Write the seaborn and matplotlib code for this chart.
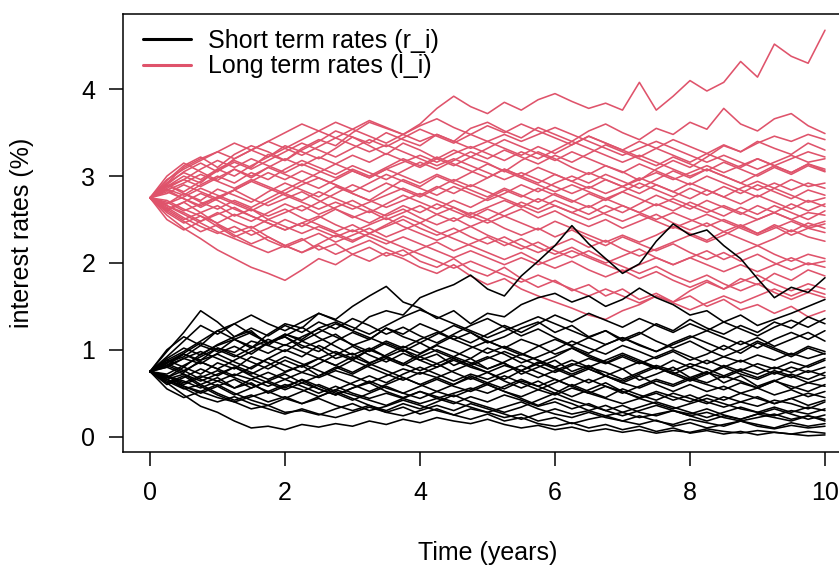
import numpy as np
import pandas as pd
import matplotlib
matplotlib.use("Agg")
import matplotlib.pyplot as plt
from matplotlib.lines import Line2D
import seaborn as sns

# time grid of the simulated paths (years)
times = np.linspace(0, 10, 41)

# short term rates (%), one list per simulated path
short_1 = [0.75, 0.82, 0.95, 0.88, 1.02, 0.97, 1.10, 1.05, 1.18, 1.12, 1.25, 1.32, 1.22, 1.38, 1.45, 1.40, 1.60, 1.68, 1.75, 1.86, 1.70,
           1.62, 1.85, 2.02, 2.20, 2.43, 2.22, 2.05, 1.88, 1.99, 2.25, 2.45, 2.32, 2.38, 2.20, 2.05, 1.82, 1.60, 1.72, 1.66, 1.83]
short_2 = [0.75, 0.88, 0.80, 0.95, 1.05, 1.12, 1.02, 1.18, 1.30, 1.25, 1.42, 1.35, 1.50, 1.62, 1.73, 1.55, 1.48, 1.36, 1.45, 1.30, 1.42,
           1.38, 1.52, 1.60, 1.65, 1.55, 1.62, 1.50, 1.58, 1.71, 1.60, 1.52, 1.40, 1.45, 1.32, 1.40, 1.28, 1.35, 1.42, 1.50, 1.58]
short_3 = [0.75, 0.62, 0.48, 0.35, 0.28, 0.18, 0.10, 0.12, 0.08, 0.14, 0.11, 0.15, 0.12, 0.18, 0.14, 0.20, 0.16, 0.22, 0.18, 0.15, 0.20,
           0.14, 0.10, 0.13, 0.08, 0.11, 0.06, 0.09, 0.05, 0.08, 0.04, 0.07, 0.05, 0.09, 0.06, 0.04, 0.07, 0.05, 0.03, 0.06, 0.04]
short_4 = [0.75, 0.70, 0.58, 0.52, 0.45, 0.40, 0.32, 0.36, 0.28, 0.30, 0.25, 0.32, 0.38, 0.30, 0.35, 0.42, 0.36, 0.30, 0.25, 0.32, 0.28,
           0.22, 0.26, 0.18, 0.22, 0.15, 0.20, 0.24, 0.18, 0.14, 0.19, 0.12, 0.16, 0.10, 0.14, 0.18, 0.12, 0.09, 0.13, 0.10, 0.12]
short_5 = [0.75, 0.98, 1.20, 1.45, 1.32, 1.15, 1.22, 1.05, 0.98, 1.10, 1.02, 0.90, 0.96, 0.85, 0.92, 1.00, 0.88, 0.95, 0.82, 0.90, 0.78,
           0.85, 0.72, 0.80, 0.88, 0.75, 0.82, 0.70, 0.78, 0.65, 0.72, 0.80, 0.68, 0.75, 0.62, 0.70, 0.58, 0.65, 0.55, 0.62, 0.58]
short_6 = [0.75, 0.85, 0.92, 1.05, 0.98, 1.12, 1.20, 1.08, 1.15, 1.02, 1.10, 1.18, 1.05, 1.12, 1.25, 1.18, 1.30, 1.22, 1.12, 1.20, 1.08,
           1.15, 1.25, 1.32, 1.20, 1.28, 1.15, 1.22, 1.10, 1.18, 1.30, 1.22, 1.35, 1.25, 1.18, 1.28, 1.20, 1.32, 1.25, 1.38, 1.30]
short_7 = [0.75, 0.68, 0.80, 0.72, 0.85, 0.78, 0.92, 0.85, 0.75, 0.82, 0.70, 0.78, 0.88, 0.80, 0.72, 0.65, 0.74, 0.68, 0.60, 0.70, 0.62,
           0.55, 0.64, 0.58, 0.50, 0.60, 0.52, 0.45, 0.55, 0.48, 0.42, 0.50, 0.44, 0.38, 0.46, 0.40, 0.35, 0.42, 0.38, 0.32, 0.40]
short_8 = [0.75, 0.82, 0.74, 0.88, 0.95, 0.86, 0.78, 0.90, 1.00, 0.92, 1.05, 0.96, 0.88, 1.00, 0.92, 0.84, 0.95, 1.05, 0.98, 0.90, 1.02,
           0.95, 0.85, 0.92, 1.00, 1.10, 1.02, 0.95, 1.05, 0.98, 0.90, 0.98, 0.88, 0.95, 1.05, 0.96, 1.08, 1.00, 0.92, 1.02, 0.95]
short_9 = [0.75, 0.66, 0.72, 0.60, 0.68, 0.56, 0.62, 0.50, 0.58, 0.65, 0.55, 0.48, 0.56, 0.62, 0.52, 0.45, 0.52, 0.44, 0.38, 0.46, 0.40,
           0.48, 0.42, 0.35, 0.40, 0.32, 0.38, 0.30, 0.36, 0.28, 0.24, 0.30, 0.26, 0.32, 0.25, 0.20, 0.26, 0.22, 0.18, 0.24, 0.20]
short_10 = [0.75, 0.80, 0.90, 0.84, 0.96, 1.04, 0.95, 1.08, 1.15, 1.05, 0.98, 1.10, 1.20, 1.12, 1.25, 1.15, 1.08, 1.18, 1.28, 1.20, 1.10,
            1.02, 1.12, 1.05, 0.95, 1.02, 0.92, 0.85, 0.94, 0.86, 0.78, 0.88, 0.80, 0.72, 0.82, 0.75, 0.68, 0.76, 0.70, 0.62, 0.68]
short_11 = [0.75, 0.70, 0.62, 0.70, 0.64, 0.72, 0.66, 0.58, 0.66, 0.74, 0.68, 0.76, 0.70, 0.62, 0.70, 0.78, 0.72, 0.80, 0.88, 0.80, 0.74,
            0.82, 0.76, 0.68, 0.76, 0.84, 0.78, 0.70, 0.64, 0.72, 0.80, 0.74, 0.66, 0.74, 0.68, 0.76, 0.84, 0.78, 0.86, 0.80, 0.88]
short_12 = [0.75, 0.64, 0.55, 0.60, 0.50, 0.42, 0.48, 0.40, 0.46, 0.38, 0.44, 0.36, 0.30, 0.36, 0.28, 0.34, 0.26, 0.32, 0.25, 0.20, 0.26,
            0.18, 0.22, 0.15, 0.12, 0.16, 0.10, 0.14, 0.08, 0.12, 0.06, 0.10, 0.04, 0.07, 0.03, 0.06, 0.02, 0.05, 0.03, 0.01, 0.02]
short_13 = [0.75, 0.86, 0.96, 1.08, 1.00, 0.92, 1.02, 1.12, 1.05, 1.15, 1.24, 1.15, 1.06, 0.98, 1.08, 1.00, 0.92, 0.84, 0.92, 0.85, 0.78,
            0.86, 0.95, 0.88, 0.80, 0.72, 0.80, 0.74, 0.66, 0.74, 0.82, 0.76, 0.84, 0.78, 0.70, 0.78, 0.72, 0.80, 0.74, 0.82, 0.90]
short_14 = [0.75, 0.68, 0.76, 0.66, 0.58, 0.66, 0.56, 0.64, 0.72, 0.62, 0.70, 0.80, 0.72, 0.82, 0.90, 0.82, 0.92, 1.00, 0.92, 1.02, 1.10,
            1.02, 0.94, 1.04, 1.12, 1.04, 0.96, 1.06, 1.14, 1.05, 0.98, 1.08, 1.16, 1.08, 1.00, 1.10, 1.02, 1.12, 1.20, 1.12, 1.22]
short_15 = [0.75, 0.80, 0.72, 0.64, 0.72, 0.80, 0.70, 0.62, 0.54, 0.62, 0.55, 0.48, 0.56, 0.64, 0.56, 0.50, 0.58, 0.66, 0.58, 0.52, 0.60,
            0.52, 0.46, 0.54, 0.48, 0.56, 0.50, 0.58, 0.52, 0.45, 0.52, 0.46, 0.40, 0.48, 0.42, 0.50, 0.44, 0.38, 0.44, 0.50, 0.45]
short_16 = [0.75, 0.90, 1.02, 0.94, 1.06, 1.15, 1.25, 1.16, 1.28, 1.20, 1.32, 1.24, 1.36, 1.28, 1.18, 1.26, 1.16, 1.08, 1.18, 1.28, 1.36,
            1.26, 1.16, 1.24, 1.14, 1.05, 1.14, 1.22, 1.12, 1.20, 1.10, 1.02, 1.10, 1.00, 0.92, 1.00, 1.10, 1.02, 0.94, 1.04, 0.98]
short_17 = [0.75, 0.66, 0.58, 0.50, 0.58, 0.48, 0.56, 0.64, 0.56, 0.66, 0.58, 0.50, 0.42, 0.50, 0.58, 0.50, 0.44, 0.52, 0.60, 0.68, 0.60,
            0.52, 0.44, 0.36, 0.44, 0.38, 0.30, 0.36, 0.28, 0.34, 0.40, 0.34, 0.28, 0.22, 0.28, 0.34, 0.28, 0.24, 0.30, 0.26, 0.32]
short_18 = [0.75, 0.84, 0.76, 0.86, 0.78, 0.70, 0.80, 0.90, 0.82, 0.74, 0.84, 0.94, 1.04, 0.94, 0.86, 0.96, 0.88, 0.80, 0.90, 0.82, 0.74,
            0.66, 0.76, 0.86, 0.78, 0.70, 0.62, 0.70, 0.62, 0.56, 0.64, 0.58, 0.66, 0.60, 0.54, 0.62, 0.56, 0.64, 0.58, 0.52, 0.60]
short_19 = [0.75, 0.72, 0.82, 0.92, 1.02, 0.94, 0.86, 0.78, 0.88, 0.80, 0.90, 0.82, 0.74, 0.84, 0.76, 0.68, 0.60, 0.68, 0.76, 0.84, 0.92,
            0.84, 0.76, 0.84, 0.92, 1.02, 0.94, 0.86, 0.78, 0.86, 0.80, 0.72, 0.64, 0.72, 0.80, 0.72, 0.66, 0.74, 0.68, 0.76, 0.70]
short_20 = [0.75, 0.62, 0.70, 0.58, 0.48, 0.40, 0.46, 0.52, 0.44, 0.38, 0.46, 0.54, 0.48, 0.42, 0.36, 0.44, 0.52, 0.46, 0.40, 0.34, 0.28,
            0.34, 0.40, 0.32, 0.26, 0.22, 0.28, 0.22, 0.18, 0.24, 0.18, 0.14, 0.20, 0.16, 0.12, 0.18, 0.14, 0.10, 0.16, 0.12, 0.15]
short_21 = [0.75, 0.88, 0.98, 1.10, 1.22, 1.12, 1.04, 0.96, 1.06, 0.98, 0.90, 0.82, 0.92, 0.84, 0.94, 1.04, 0.96, 1.06, 1.16, 1.08, 1.18,
            1.28, 1.20, 1.30, 1.40, 1.32, 1.42, 1.34, 1.26, 1.36, 1.28, 1.20, 1.30, 1.22, 1.32, 1.24, 1.16, 1.26, 1.34, 1.26, 1.36]
short_22 = [0.75, 0.70, 0.60, 0.68, 0.76, 0.68, 0.60, 0.52, 0.60, 0.54, 0.46, 0.54, 0.62, 0.70, 0.62, 0.72, 0.80, 0.72, 0.64, 0.72, 0.66,
            0.74, 0.82, 0.74, 0.66, 0.58, 0.66, 0.58, 0.50, 0.58, 0.66, 0.60, 0.68, 0.62, 0.70, 0.64, 0.56, 0.64, 0.72, 0.66, 0.74]
short_23 = [0.75, 1.00, 1.15, 1.05, 1.22, 1.30, 1.18, 1.08, 1.16, 1.26, 1.14, 1.04, 0.94, 1.02, 0.92, 0.84, 0.76, 0.84, 0.74, 0.66, 0.74,
            0.64, 0.56, 0.64, 0.54, 0.46, 0.54, 0.62, 0.52, 0.44, 0.50, 0.42, 0.48, 0.40, 0.34, 0.40, 0.46, 0.38, 0.44, 0.36, 0.42]
short_24 = [0.75, 0.55, 0.45, 0.52, 0.60, 0.50, 0.42, 0.36, 0.44, 0.52, 0.60, 0.52, 0.44, 0.36, 0.30, 0.38, 0.32, 0.40, 0.48, 0.40, 0.34,
            0.28, 0.34, 0.42, 0.50, 0.42, 0.36, 0.30, 0.24, 0.30, 0.36, 0.30, 0.24, 0.18, 0.24, 0.20, 0.26, 0.32, 0.26, 0.20, 0.25]
short_25 = [0.75, 0.92, 1.10, 1.28, 1.18, 1.30, 1.40, 1.30, 1.22, 1.32, 1.42, 1.34, 1.26, 1.18, 1.28, 1.38, 1.46, 1.38, 1.30, 1.22, 1.14,
            1.22, 1.30, 1.38, 1.30, 1.22, 1.14, 1.06, 1.14, 1.06, 0.98, 1.06, 1.14, 1.22, 1.14, 1.06, 1.14, 1.04, 1.12, 1.20, 1.10]
short_26 = [0.75, 0.60, 0.68, 0.78, 0.70, 0.80, 0.72, 0.82, 0.92, 0.84, 0.76, 0.68, 0.60, 0.52, 0.60, 0.68, 0.60, 0.52, 0.46, 0.54, 0.62,
            0.70, 0.62, 0.54, 0.62, 0.70, 0.78, 0.70, 0.62, 0.70, 0.60, 0.52, 0.60, 0.52, 0.58, 0.50, 0.56, 0.48, 0.54, 0.46, 0.52]
short_27 = [0.75, 0.85, 0.95, 0.86, 0.78, 0.88, 0.98, 1.08, 1.18, 1.10, 1.20, 1.30, 1.22, 1.14, 1.06, 0.98, 1.08, 0.98, 0.90, 0.82, 0.90,
            0.98, 0.90, 0.82, 0.74, 0.82, 0.90, 0.84, 0.92, 0.84, 0.92, 1.00, 0.92, 0.84, 0.92, 0.86, 0.94, 0.88, 0.96, 0.90, 0.96]
short_28 = [0.75, 0.66, 0.56, 0.46, 0.40, 0.46, 0.38, 0.32, 0.26, 0.32, 0.26, 0.22, 0.28, 0.34, 0.28, 0.24, 0.30, 0.36, 0.30, 0.38, 0.32,
            0.26, 0.20, 0.26, 0.32, 0.26, 0.30, 0.24, 0.28, 0.22, 0.26, 0.30, 0.24, 0.28, 0.22, 0.18, 0.22, 0.26, 0.20, 0.24, 0.18]
short_29 = [0.75, 0.82, 0.90, 0.98, 0.90, 0.82, 0.74, 0.66, 0.74, 0.82, 0.90, 0.98, 0.90, 1.00, 1.10, 1.02, 1.12, 1.20, 1.12, 1.04, 0.96,
            1.04, 0.96, 0.88, 0.80, 0.88, 0.80, 0.88, 0.96, 0.88, 0.80, 0.72, 0.80, 0.88, 0.80, 0.88, 0.80, 0.72, 0.80, 0.74, 0.80]
short_30 = [0.75, 0.70, 0.64, 0.56, 0.64, 0.56, 0.66, 0.74, 0.66, 0.58, 0.50, 0.58, 0.50, 0.44, 0.50, 0.44, 0.38, 0.44, 0.50, 0.56, 0.50,
            0.58, 0.66, 0.58, 0.66, 0.58, 0.50, 0.44, 0.38, 0.44, 0.38, 0.32, 0.38, 0.44, 0.38, 0.32, 0.28, 0.34, 0.28, 0.34, 0.30]

# long term rates (%), one list per simulated path
long_1 = [2.75, 2.88, 3.00, 2.92, 3.08, 3.18, 3.10, 3.25, 3.18, 3.32, 3.42, 3.35, 3.50, 3.62, 3.55, 3.48, 3.60, 3.78, 3.92, 3.80, 3.72,
          3.85, 3.76, 3.88, 3.95, 3.86, 3.78, 3.84, 3.76, 4.08, 3.76, 3.92, 4.10, 3.98, 4.08, 4.32, 4.14, 4.52, 4.38, 4.30, 4.68]
long_2 = [2.75, 2.90, 3.05, 3.15, 3.05, 3.20, 3.30, 3.22, 3.35, 3.28, 3.20, 3.32, 3.45, 3.38, 3.50, 3.42, 3.35, 3.48, 3.40, 3.55, 3.62,
          3.52, 3.44, 3.56, 3.48, 3.40, 3.52, 3.60, 3.50, 3.42, 3.55, 3.48, 3.62, 3.54, 3.78, 3.60, 3.52, 3.66, 3.72, 3.58, 3.49]
long_3 = [2.75, 2.55, 2.40, 2.28, 2.15, 2.05, 1.95, 1.88, 1.80, 1.92, 2.05, 1.98, 2.10, 2.18, 2.08, 2.15, 2.02, 1.95, 2.05, 1.92, 1.85,
          1.95, 1.82, 1.72, 1.80, 1.68, 1.75, 1.62, 1.70, 1.58, 1.65, 1.55, 1.62, 1.50, 1.58, 1.46, 1.52, 1.42, 1.50, 1.38, 1.45]
long_4 = [2.75, 2.62, 2.50, 2.58, 2.45, 2.35, 2.42, 2.30, 2.20, 2.28, 2.15, 2.22, 2.10, 2.02, 2.12, 2.05, 1.95, 1.88, 1.98, 1.85, 1.75,
          1.82, 1.70, 1.62, 1.55, 1.48, 1.40, 1.35, 1.45, 1.52, 1.62, 1.55, 1.68, 1.78, 1.70, 1.82, 1.75, 1.88, 1.80, 1.92, 1.85]
long_5 = [2.75, 2.95, 3.12, 3.22, 3.10, 3.25, 3.35, 3.28, 3.18, 3.30, 3.40, 3.52, 3.45, 3.35, 3.25, 3.38, 3.30, 3.20, 3.12, 3.22, 3.15,
          3.05, 3.18, 3.28, 3.20, 3.10, 3.02, 3.12, 3.05, 2.95, 3.08, 3.18, 3.10, 3.22, 3.35, 3.28, 3.40, 3.32, 3.25, 3.38, 3.30]
long_6 = [2.75, 2.68, 2.80, 2.72, 2.85, 2.78, 2.70, 2.82, 2.92, 2.84, 2.76, 2.88, 2.80, 2.72, 2.84, 2.96, 2.88, 3.00, 2.92, 2.84, 2.76,
          2.86, 2.78, 2.70, 2.80, 2.72, 2.64, 2.74, 2.66, 2.58, 2.68, 2.60, 2.70, 2.62, 2.54, 2.64, 2.56, 2.66, 2.58, 2.50, 2.60]
long_7 = [2.75, 2.62, 2.70, 2.58, 2.66, 2.54, 2.62, 2.50, 2.58, 2.66, 2.56, 2.64, 2.72, 2.62, 2.54, 2.62, 2.52, 2.44, 2.52, 2.42, 2.50,
          2.40, 2.32, 2.40, 2.30, 2.38, 2.28, 2.20, 2.30, 2.22, 2.14, 2.22, 2.12, 2.04, 2.12, 2.02, 2.10, 2.00, 1.92, 2.00, 1.95]
long_8 = [2.75, 2.85, 2.78, 2.90, 3.00, 2.92, 3.04, 2.96, 3.08, 3.18, 3.10, 3.02, 3.12, 3.04, 2.96, 3.06, 3.16, 3.08, 3.18, 3.28, 3.20,
          3.30, 3.22, 3.14, 3.24, 3.16, 3.26, 3.36, 3.28, 3.20, 3.12, 3.22, 3.14, 3.06, 3.16, 3.08, 3.00, 3.10, 3.02, 3.12, 3.05]
long_9 = [2.75, 2.60, 2.48, 2.36, 2.44, 2.32, 2.22, 2.30, 2.20, 2.12, 2.20, 2.10, 2.18, 2.26, 2.16, 2.08, 2.16, 2.24, 2.14, 2.22, 2.30,
          2.20, 2.28, 2.18, 2.10, 2.18, 2.08, 2.00, 2.08, 2.16, 2.06, 1.98, 2.06, 2.14, 2.04, 2.12, 2.20, 2.10, 2.02, 2.10, 2.05]
long_10 = [2.75, 2.82, 2.74, 2.66, 2.76, 2.68, 2.60, 2.70, 2.80, 2.72, 2.82, 2.74, 2.66, 2.58, 2.68, 2.78, 2.70, 2.62, 2.72, 2.64, 2.74,
           2.84, 2.76, 2.86, 2.78, 2.70, 2.80, 2.72, 2.82, 2.92, 2.84, 2.76, 2.86, 2.78, 2.88, 2.80, 2.90, 2.82, 2.74, 2.84, 2.78]
long_11 = [2.75, 2.66, 2.58, 2.48, 2.56, 2.64, 2.54, 2.46, 2.38, 2.46, 2.54, 2.44, 2.36, 2.44, 2.52, 2.42, 2.34, 2.26, 2.34, 2.42, 2.32,
           2.24, 2.16, 2.24, 2.14, 2.06, 2.14, 2.04, 1.96, 1.88, 1.96, 1.86, 1.78, 1.86, 1.76, 1.68, 1.76, 1.66, 1.58, 1.66, 1.60]
long_12 = [2.75, 2.88, 2.96, 2.88, 2.98, 3.08, 3.00, 3.10, 3.02, 2.94, 3.04, 3.14, 3.24, 3.16, 3.26, 3.18, 3.10, 3.20, 3.30, 3.22, 3.32,
           3.42, 3.34, 3.26, 3.18, 3.28, 3.20, 3.12, 3.04, 3.14, 3.06, 2.98, 2.90, 3.00, 2.92, 2.84, 2.76, 2.86, 2.78, 2.70, 2.75]
long_13 = [2.75, 2.70, 2.60, 2.68, 2.76, 2.84, 2.74, 2.66, 2.74, 2.82, 2.72, 2.62, 2.52, 2.60, 2.50, 2.58, 2.66, 2.56, 2.64, 2.54, 2.46,
           2.54, 2.62, 2.52, 2.60, 2.50, 2.42, 2.50, 2.40, 2.48, 2.56, 2.46, 2.38, 2.46, 2.36, 2.44, 2.34, 2.42, 2.32, 2.40, 2.35]
long_14 = [2.75, 2.84, 2.92, 3.02, 2.94, 2.86, 2.96, 2.88, 2.80, 2.90, 2.98, 2.90, 2.82, 2.92, 3.02, 2.94, 2.86, 2.78, 2.88, 2.80, 2.72,
           2.80, 2.90, 2.82, 2.92, 3.00, 2.92, 3.02, 2.94, 2.86, 2.96, 3.06, 2.98, 3.08, 3.00, 2.92, 3.02, 3.12, 3.04, 3.14, 3.08]
long_15 = [2.75, 2.64, 2.52, 2.42, 2.34, 2.42, 2.32, 2.40, 2.50, 2.42, 2.52, 2.62, 2.54, 2.46, 2.56, 2.66, 2.58, 2.68, 2.60, 2.52, 2.62,
           2.54, 2.46, 2.38, 2.48, 2.40, 2.32, 2.24, 2.32, 2.24, 2.32, 2.42, 2.34, 2.26, 2.36, 2.28, 2.20, 2.28, 2.38, 2.30, 2.25]
long_16 = [2.75, 2.90, 2.82, 2.94, 3.06, 3.16, 3.08, 3.18, 3.28, 3.38, 3.30, 3.22, 3.32, 3.42, 3.34, 3.44, 3.54, 3.46, 3.38, 3.48, 3.40,
           3.32, 3.24, 3.34, 3.26, 3.36, 3.46, 3.38, 3.30, 3.40, 3.32, 3.42, 3.34, 3.26, 3.36, 3.28, 3.38, 3.46, 3.40, 3.48, 3.42]
long_17 = [2.75, 2.68, 2.76, 2.86, 2.78, 2.70, 2.62, 2.54, 2.62, 2.52, 2.44, 2.36, 2.44, 2.34, 2.42, 2.50, 2.40, 2.32, 2.40, 2.30, 2.22,
           2.30, 2.20, 2.12, 2.20, 2.28, 2.18, 2.26, 2.16, 2.08, 2.16, 2.24, 2.32, 2.24, 2.32, 2.42, 2.34, 2.44, 2.36, 2.46, 2.40]
long_18 = [2.75, 2.80, 2.90, 2.82, 2.74, 2.84, 2.94, 3.04, 2.96, 3.06, 2.98, 2.90, 2.80, 2.72, 2.64, 2.72, 2.80, 2.72, 2.64, 2.56, 2.64,
           2.72, 2.64, 2.74, 2.66, 2.58, 2.66, 2.56, 2.48, 2.56, 2.48, 2.40, 2.48, 2.56, 2.48, 2.40, 2.32, 2.40, 2.48, 2.40, 2.45]
long_19 = [2.75, 2.58, 2.46, 2.54, 2.42, 2.30, 2.38, 2.26, 2.18, 2.26, 2.34, 2.24, 2.32, 2.40, 2.30, 2.38, 2.46, 2.36, 2.28, 2.20, 2.12,
           2.04, 2.12, 2.02, 1.94, 2.02, 1.92, 1.84, 1.92, 1.82, 1.90, 1.80, 1.72, 1.80, 1.70, 1.78, 1.86, 1.76, 1.68, 1.76, 1.70]
long_20 = [2.75, 2.86, 2.96, 3.08, 3.18, 3.10, 3.20, 3.12, 3.04, 3.14, 3.06, 2.98, 3.08, 3.00, 3.10, 3.20, 3.12, 3.22, 3.14, 3.06, 2.98,
           3.08, 3.00, 2.92, 3.02, 2.94, 2.86, 2.96, 2.88, 2.80, 2.90, 2.82, 2.74, 2.84, 2.76, 2.68, 2.78, 2.70, 2.62, 2.72, 2.65]
long_21 = [2.75, 2.72, 2.62, 2.54, 2.46, 2.56, 2.48, 2.58, 2.68, 2.60, 2.70, 2.80, 2.90, 2.82, 2.92, 2.84, 2.76, 2.86, 2.96, 2.88, 2.98,
           3.08, 3.00, 3.10, 3.02, 2.94, 3.04, 2.96, 2.88, 2.98, 2.90, 2.82, 2.92, 2.84, 2.76, 2.86, 2.94, 2.86, 2.96, 2.88, 2.92]
long_22 = [2.75, 2.92, 3.04, 2.96, 3.08, 3.00, 3.12, 3.22, 3.32, 3.24, 3.34, 3.44, 3.54, 3.46, 3.38, 3.48, 3.58, 3.66, 3.56, 3.48, 3.58,
           3.50, 3.60, 3.52, 3.44, 3.36, 3.46, 3.38, 3.30, 3.22, 3.32, 3.24, 3.16, 3.26, 3.18, 3.10, 3.20, 3.12, 3.04, 3.14, 3.06]
long_23 = [2.75, 3.00, 3.15, 3.05, 2.95, 3.08, 2.98, 3.10, 3.20, 3.12, 3.22, 3.14, 3.06, 2.98, 3.08, 3.00, 2.92, 3.02, 2.94, 3.04, 3.14,
           3.06, 2.98, 2.90, 2.82, 2.90, 2.82, 2.74, 2.82, 2.74, 2.66, 2.74, 2.66, 2.58, 2.66, 2.58, 2.50, 2.58, 2.50, 2.42, 2.48]
long_24 = [2.75, 2.50, 2.38, 2.48, 2.58, 2.48, 2.40, 2.50, 2.42, 2.34, 2.42, 2.34, 2.26, 2.34, 2.44, 2.54, 2.46, 2.56, 2.48, 2.58, 2.50,
           2.60, 2.70, 2.62, 2.72, 2.64, 2.56, 2.66, 2.58, 2.68, 2.78, 2.70, 2.62, 2.72, 2.64, 2.56, 2.66, 2.58, 2.68, 2.60, 2.68]
long_25 = [2.75, 2.90, 2.80, 2.70, 2.62, 2.72, 2.64, 2.74, 2.84, 2.94, 2.86, 2.96, 3.06, 2.98, 3.08, 3.16, 3.24, 3.16, 3.26, 3.34, 3.26,
           3.18, 3.28, 3.20, 3.30, 3.40, 3.32, 3.24, 3.16, 3.24, 3.16, 3.08, 3.00, 3.08, 3.00, 2.92, 2.84, 2.92, 2.84, 2.92, 2.86]
long_26 = [2.75, 2.60, 2.70, 2.80, 2.72, 2.62, 2.54, 2.46, 2.38, 2.46, 2.38, 2.30, 2.38, 2.30, 2.22, 2.30, 2.22, 2.14, 2.06, 2.14, 2.06,
           1.98, 2.06, 1.98, 2.06, 2.14, 2.06, 1.98, 1.90, 1.98, 2.06, 1.98, 2.06, 1.98, 1.90, 1.98, 1.90, 1.98, 2.06, 1.98, 2.02]
long_27 = [2.75, 2.92, 3.10, 3.20, 3.28, 3.20, 3.30, 3.40, 3.32, 3.42, 3.52, 3.44, 3.36, 3.28, 3.36, 3.28, 3.20, 3.12, 3.20, 3.12, 3.04,
           2.96, 3.04, 2.96, 2.88, 2.80, 2.88, 2.80, 2.88, 2.96, 3.04, 2.96, 3.04, 3.12, 3.04, 3.12, 3.20, 3.12, 3.20, 3.28, 3.22]
long_28 = [2.75, 2.66, 2.56, 2.46, 2.36, 2.28, 2.20, 2.12, 2.20, 2.12, 2.22, 2.32, 2.24, 2.34, 2.26, 2.18, 2.10, 2.02, 1.94, 2.02, 1.94,
           1.86, 1.78, 1.86, 1.78, 1.70, 1.62, 1.70, 1.62, 1.54, 1.62, 1.54, 1.46, 1.54, 1.62, 1.54, 1.62, 1.70, 1.62, 1.70, 1.64]
long_29 = [2.75, 2.84, 2.74, 2.64, 2.74, 2.84, 2.94, 2.86, 2.78, 2.70, 2.62, 2.70, 2.62, 2.70, 2.78, 2.86, 2.78, 2.88, 2.80, 2.90, 2.82,
           2.74, 2.66, 2.58, 2.66, 2.58, 2.50, 2.58, 2.66, 2.58, 2.50, 2.58, 2.50, 2.42, 2.50, 2.42, 2.50, 2.58, 2.50, 2.58, 2.55]
long_30 = [2.75, 2.96, 3.08, 3.18, 3.28, 3.38, 3.30, 3.40, 3.50, 3.60, 3.52, 3.62, 3.54, 3.64, 3.56, 3.48, 3.40, 3.48, 3.40, 3.32, 3.40,
           3.48, 3.40, 3.48, 3.56, 3.48, 3.40, 3.32, 3.24, 3.32, 3.40, 3.32, 3.24, 3.16, 3.24, 3.16, 3.08, 3.16, 3.24, 3.16, 3.20]

short_paths = [short_1, short_2, short_3, short_4, short_5, short_6, short_7, short_8, short_9, short_10,
               short_11, short_12, short_13, short_14, short_15, short_16, short_17, short_18, short_19, short_20,
               short_21, short_22, short_23, short_24, short_25, short_26, short_27, short_28, short_29, short_30]
long_paths = [long_1, long_2, long_3, long_4, long_5, long_6, long_7, long_8, long_9, long_10,
              long_11, long_12, long_13, long_14, long_15, long_16, long_17, long_18, long_19, long_20,
              long_21, long_22, long_23, long_24, long_25, long_26, long_27, long_28, long_29, long_30]

legend_labels = ["Short term rates (r_i)", "Long term rates (l_i)"]
short_color = "black"
long_color = "#DF536B"


def to_long_form(paths, kind):
    rows = []
    for i, path in enumerate(paths):
        for t, v in zip(times, path):
            rows.append({"time": t, "rate": v, "path": i, "kind": kind})
    return pd.DataFrame(rows)


df = pd.concat([to_long_form(long_paths, "long"), to_long_form(short_paths, "short")], ignore_index=True)

sns.set_style("ticks")
plt.rcParams["font.family"] = ["Liberation Sans", "DejaVu Sans"]
plt.rcParams["text.color"] = "black"
plt.rcParams["axes.labelcolor"] = "black"

W, H = 839, 568
fig = plt.figure(figsize=(W / 100, H / 100), dpi=100)
# the plotting box runs past the right edge of the picture, as in the reference
ax = fig.add_axes([123 / W, 1 - 452 / H, (852 - 123) / W, (452 - 14) / H])

# red first, black drawn on top
sns.lineplot(data=df[df["kind"] == "long"], x="time", y="rate", units="path", estimator=None,
             color=long_color, lw=1.15, ax=ax, legend=False)
sns.lineplot(data=df[df["kind"] == "short"], x="time", y="rate", units="path", estimator=None,
             color=short_color, lw=1.15, ax=ax, legend=False)

ax.margins(x=0.04, y=0.04)
ax.set_xticks([0, 2, 4, 6, 8, 10])
ax.set_yticks([0, 1, 2, 3, 4])
ax.tick_params(axis="both", direction="out", length=10, width=1.1, color="black", labelsize=18, labelcolor="black")
ax.tick_params(axis="x", pad=11)
ax.tick_params(axis="y", pad=10)
for sp in ax.spines.values():
    sp.set_visible(True)
    sp.set_linewidth(1.1)
    sp.set_color("black")

ax.set_xlabel("Time (years)", fontsize=18, va="center", color="black")
ax.set_ylabel("interest rates (%)", fontsize=18, va="center", color="black")
ax.xaxis.set_label_coords(0.5, (452 - 553) / 438)
ax.yaxis.set_label_coords((22 - 123) / 729, 0.5)

handles = [Line2D([0], [0], color=short_color, lw=2.2), Line2D([0], [0], color=long_color, lw=2.2)]
fig.legend(handles, legend_labels, loc="upper left", bbox_to_anchor=(143 / W, 1 - 29 / H),
           frameon=False, fontsize=18, handlelength=1.9, handletextpad=0.72,
           labelspacing=0.05, borderpad=0, borderaxespad=0, labelcolor="black")

fig.savefig("out.png", dpi=100)
